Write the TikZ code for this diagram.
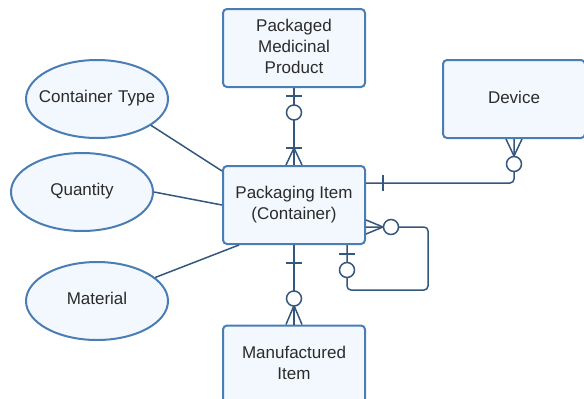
\documentclass[tikz,border=0pt]{standalone}
\usepackage{fontspec}
\setmainfont{Liberation Sans}
\usetikzlibrary{shapes.geometric,calc}
\definecolor{bordc}{HTML}{4A7DB3}
\definecolor{fillc}{HTML}{F3F8FE}
\definecolor{linec}{HTML}{34577D}
\definecolor{txtc}{HTML}{2B2B2B}
\tikzset{
  entity/.style={draw=bordc, fill=fillc, line width=2pt, rounded corners=4pt,
    minimum width=142pt, minimum height=78pt, align=center, inner sep=0pt,
    text depth=4pt, text=txtc, font=\fontsize{17}{21}\selectfont},
  attr/.style={ellipse, draw=bordc, fill=fillc, line width=2pt,
    minimum width=142pt, minimum height=78pt, inner sep=0pt, text width=0pt, align=center,
    text depth=5pt, text=txtc, font=\fontsize{17}{21}\selectfont},
  conn/.style={draw=linec, line width=1.5pt},
  zcirc/.style={circle, draw=linec, fill=white, line width=1.5pt, minimum size=15pt, inner sep=0pt}
}
\newcommand{\atxt}[1]{\makebox[0pt]{#1}}
\begin{document}
\begin{tikzpicture}[x=1pt,y=-1pt]
\useasboundingbox (0,0) rectangle (584,399);
\begin{scope}
\clip (0,0) rectangle (584,399);
% entities
\node[entity] (pmp) at (294,48) {Packaged\\Medicinal\\Product};
\node[entity] (pi) at (294,205) {Packaging Item\\(Container)};
\node[entity] (mi) at (294,364.5) {Manufactured\\Item};
\node[entity] (dev) at (514,99) {Device};
% attributes
\node[attr] (ct) at (97,99) {\atxt{Container Type}};
\node[attr] (qt) at (82,192) {\atxt{Quantity}};
\node[attr] (mt) at (97,301) {\atxt{Material}};
% attribute links
\draw[conn] (ct.-26) -- ($(pi.north west)+(0,6)$);
\draw[conn] (qt.east) -- (pi.west);
\draw[conn] (mt.22) -- ($(pi.south west)+(17,0)$);

% PMP -- PI
\draw[conn] (pmp.south) -- (pi.north);
\draw[conn] ($(pmp.south)+(-8,8)$) -- ($(pmp.south)+(8,8)$);
\draw[conn] ($(pi.north)+(-8,-17)$) -- ($(pi.north)+(8,-17)$);
\draw[conn] ($(pi.north)+(-8,0)$) -- ($(pi.north)+(0,-17)$) -- ($(pi.north)+(8,0)$);
\node[zcirc] (c1) at ($(pmp.south)+(0,24.5)$) {};

% PI -- MI
\draw[conn] (pi.south) -- (mi.north);
\draw[conn] ($(pi.south)+(-8,18)$) -- ($(pi.south)+(8,18)$);
\draw[conn] ($(mi.north)+(-8,0)$) -- ($(mi.north)+(0,-19)$) -- ($(mi.north)+(8,0)$);
\node[zcirc] (c2) at ($(mi.north)+(0,-26)$) {};

% PI -- Device
\coordinate (pd) at ($(pi.east)+(0,-22)$);
\draw[conn, rounded corners=4pt] (pd) -- (dev.south |- pd) -- (dev.south);
\draw[conn] ($(pd)+(17,-8)$) -- ($(pd)+(17,8)$);
\draw[conn] ($(dev.south)+(-8,0)$) -- ($(dev.south)+(0,17)$) -- ($(dev.south)+(8,0)$);
\node[zcirc] (c3) at ($(dev.south)+(0,25)$) {};

% self loop
\coordinate (ls) at ($(pi.east)+(0,22)$);
\coordinate (lb) at ($(pi.south)+(53,0)$);
\coordinate (lr) at ($(ls)+(62,0)$);
\coordinate (lbot) at ($(lb)+(0,45)$);
\draw[conn, rounded corners=4pt] (ls) -- (lr) -- (lr |- lbot) -- (lbot) -- (lb);
\draw[conn] ($(ls)+(0,-7)$) -- ($(ls)+(17,0)$) -- ($(ls)+(0,7)$);
\draw[conn] ($(lb)+(-8,9)$) -- ($(lb)+(8,9)$);
\node[zcirc] (c4) at ($(ls)+(25,0)$) {};
\node[zcirc] (c5) at ($(lb)+(0,25)$) {};
\end{scope}
\end{tikzpicture}
\end{document}
